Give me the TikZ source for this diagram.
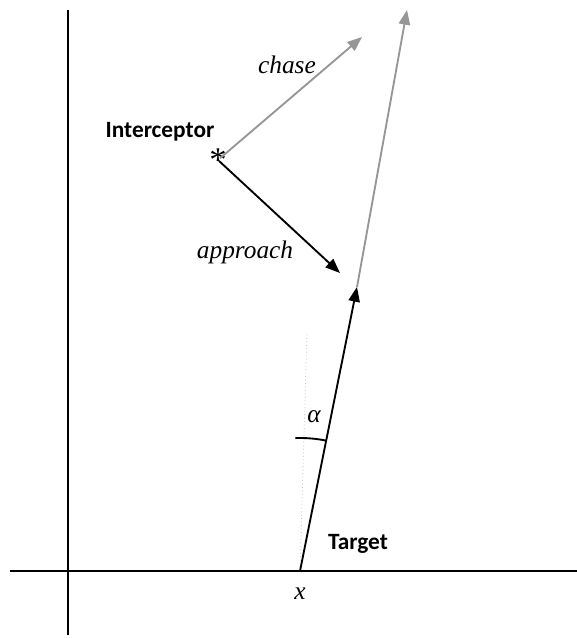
\documentclass[tikz,border=0pt]{standalone}
\usepackage{fontspec}
\usetikzlibrary{arrows.meta}
\newfontfamily\calib{Carlito}
\newfontfamily\tms{Liberation Serif}
\definecolor{lgrey}{RGB}{150,150,150}
\tikzset{
  axisline/.style={black, line width=1.5pt},
  bvec/.style={black, line width=1.4pt, -{Triangle[length=11pt,width=8.5pt]}},
  gvec/.style={lgrey, line width=1.4pt, -{Triangle[length=11pt,width=8.5pt]}},
  blbl/.style={font=\calib\bfseries\fontsize{17.5}{20}\selectfont},
  ilbl/.style={font=\tms\itshape\fontsize{19}{22}\selectfont}
}

\begin{document}
\begin{tikzpicture}[x=0.75pt,y=0.75pt]
\useasboundingbox (0,0) rectangle (577,638);
% axes
\draw[axisline] (68,628) -- (68,3);
\draw[axisline] (10,67) -- (577,67);
% target and its heading
\coordinate (t) at (300,67);
\coordinate (b) at (357,351);
\coordinate (h) at (407,628);
\draw[lgrey!60, dotted, line width=0.6pt] (t) -- (307,305) coordinate (v);
\draw[bvec] (t) -- (b);
\draw[gvec] (b) -- (h);
\draw[black, line width=1.4pt] (t) ++(92:133) arc (92:78.65:133);
\node[ilbl] (al) at (314,221) {α};
\node[ilbl] (x) at (300,44) {x};
\node[blbl] (tg) at (358,94) {Target};
% interceptor
\node[inner sep=0pt, font=\tms\fontsize{26}{28}\selectfont] (i) at (218,478) {*};
\node[blbl] (il) at (160,506) {Interceptor};
\coordinate (c) at (362,601);
\coordinate (a) at (340,365);
\draw[gvec, shorten <=2pt] (i.center) -- (c);
\draw[bvec, shorten <=1pt] (i.center) -- (a);
\node[ilbl] at (287,573) {chase};
\node[ilbl] at (245,386) {approach};
\end{tikzpicture}
\end{document}
